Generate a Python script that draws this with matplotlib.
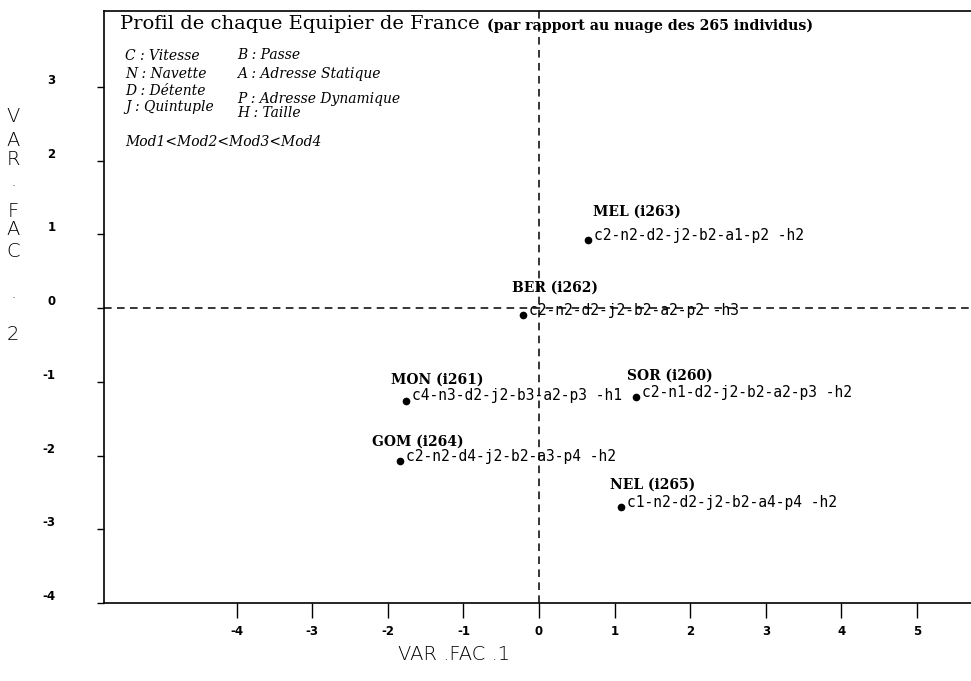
import matplotlib
import matplotlib.pyplot as plt
import matplotlib.transforms as mtransforms

matplotlib.use('Agg')
plt.rcParams['axes.unicode_minus'] = False

# Individuals (players of the French team) on the first factorial plane
names = ["MEL (i263)", "BER (i262)", "MON (i261)", "SOR (i260)", "GOM (i264)", "NEL (i265)"]
codes = ["c2-n2-d2-j2-b2-a1-p2 -h2",
         "c2-n2-d2-j2-b2-a2-p2 -h3",
         "c4-n3-d2-j2-b3-a2-p3 -h1",
         "c2-n1-d2-j2-b2-a2-p3 -h2",
         "c2-n2-d4-j2-b2-a3-p4 -h2",
         "c1-n2-d2-j2-b2-a4-p4 -h2"]
fac1 = [0.65, -0.21, -1.76, 1.28, -1.84, 1.08]
fac2 = [0.92, -0.095, -1.26, -1.21, -2.08, -2.70]

# Axis ticks
xticks = [-4, -3, -2, -1, 0, 1, 2, 3, 4, 5]
yticks = [-4, -3, -2, -1, 0, 1, 2, 3]

# Legend of variables
legend_left = ["C : Vitesse", "N : Navette", "D : Détente", "J : Quintuple"]
legend_right = ["B : Passe", "A : Adresse Statique", "P : Adresse Dynamique", "H : Taille"]
legend_order = "Mod1<Mod2<Mod3<Mod4"

title = "Profil de chaque Equipier de France"
subtitle = "(par rapport au nuage des 265 individus)"
xlabel = "VAR .FAC .1"
ylabel = "VAR .FAC .2"

W, H = 971, 681
fig = plt.figure(figsize=(W / 100, H / 100), dpi=100)
# axes box in pixels: left 104, right 971, top 11, bottom 603
ax = fig.add_axes([104 / W, (H - 603) / H, (W - 104) / W, (603 - 11) / H])
ax.set_xlim(-5.754, 5.714)
ax.set_ylim(-4.0, 4.03)

ax.spines['right'].set_visible(False)
for s in ['left', 'bottom', 'top']:
    ax.spines[s].set_linewidth(1.2)

ax.set_xticks(xticks)
ax.set_yticks(yticks)
ax.tick_params(axis='x', direction='out', length=11, width=1, pad=5, labelsize=8.5)
ax.tick_params(axis='y', direction='out', length=5, width=1, pad=30, labelsize=8.5)
for lab in ax.get_xticklabels() + ax.get_yticklabels():
    lab.set_fontweight('bold')

# y tick labels sit a bit above their tick in the original print
shift = mtransforms.ScaledTranslation(0, 8 / 100, fig.dpi_scale_trans)
for lab in ax.get_yticklabels():
    lab.set_transform(lab.get_transform() + shift)

# dashed axes through origin
ax.axhline(0, color='black', lw=1.1, ls=(0, (5, 3.5)))
ax.axvline(0, color='black', lw=1.1, ls=(0, (5, 3.5)))

# points
ax.plot(fac1, fac2, 'o', color='black', markersize=4.5, zorder=3)

# name offsets (pixels) relative to each dot
name_off = [(5, 22), (-11, 20), (-15, 14), (-9, 15), (-28, 13), (-11, 15)]
for x, y, nm, cd, (dx, dy) in zip(fac1, fac2, names, codes, name_off):
    ax.annotate(nm, (x, y), xytext=(dx * 0.72, dy * 0.72), textcoords='offset points',
                ha='left', va='bottom', family='DejaVu Serif', weight='bold', fontsize=10)
    ax.annotate(cd, (x, y), xytext=(6 * 0.72, 5 * 0.72), textcoords='offset points',
                ha='left', va='center', family='DejaVu Sans Mono', fontsize=10.5)


def px(xp, yp):
    return (xp - 104) / 867, (603 - yp) / 592


# title and subtitle
ax.text(*px(120, 29), title, transform=ax.transAxes, family='DejaVu Serif',
        fontsize=14, ha='left', va='baseline')
ax.text(*px(487, 30), subtitle, transform=ax.transAxes, family='DejaVu Serif',
        weight='bold', fontsize=10.2, ha='left', va='baseline')

# variable legend
left_y = [60, 78, 95, 111]
right_y = [59, 78, 103, 117]
for t, yb in zip(legend_left, left_y):
    ax.text(*px(125, yb), t, transform=ax.transAxes, family='DejaVu Serif',
            style='italic', fontsize=10, ha='left', va='baseline')
for t, yb in zip(legend_right, right_y):
    ax.text(*px(237, yb), t, transform=ax.transAxes, family='DejaVu Serif',
            style='italic', fontsize=10, ha='left', va='baseline')
ax.text(*px(125, 146), legend_order, transform=ax.transAxes, family='DejaVu Serif',
        style='italic', fontsize=10, ha='left', va='baseline')

# axis labels (plotter style, y label stacked letter by letter)
fig.text(454 / W, 1 - 655 / H, xlabel, family='DejaVu Sans', weight='light',
         fontsize=14, ha='center', va='center')
ybase = [122, 146, 165, 186, 217, 235, 257, 298, 340]
for ch, yb in zip(ylabel.replace(' ', ''), ybase):
    fig.text(13 / W, 1 - yb / H, ch, family='DejaVu Sans', weight='light',
             fontsize=14, ha='center', va='baseline')

fig.savefig("out.png", dpi=100)
plt.close(fig)
